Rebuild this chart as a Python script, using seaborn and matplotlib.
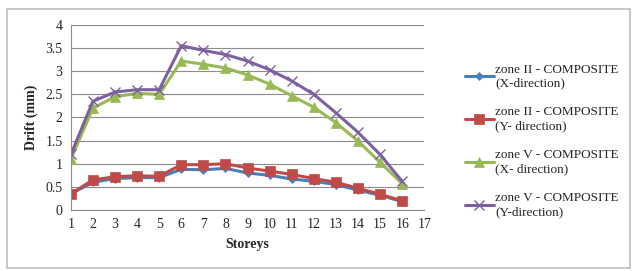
import matplotlib
matplotlib.use("Agg")
import matplotlib.pyplot as plt
import seaborn as sns
import pandas as pd
from matplotlib.patches import Rectangle

storeys = list(range(1, 17))
zone2_x = [0.35, 0.60, 0.68, 0.70, 0.70, 0.88, 0.87, 0.90, 0.80, 0.75, 0.67, 0.62, 0.55, 0.43, 0.32, 0.18]
zone2_y = [0.35, 0.65, 0.72, 0.74, 0.73, 0.98, 0.98, 1.00, 0.91, 0.84, 0.77, 0.68, 0.60, 0.47, 0.34, 0.20]
zone5_x = [1.10, 2.20, 2.45, 2.52, 2.50, 3.22, 3.15, 3.07, 2.92, 2.72, 2.47, 2.22, 1.89, 1.49, 1.03, 0.57]
zone5_y = [1.20, 2.35, 2.55, 2.60, 2.60, 3.55, 3.45, 3.36, 3.22, 3.03, 2.79, 2.50, 2.10, 1.68, 1.20, 0.62]

labels = ["zone II - COMPOSITE\n(X-direction)",
          "zone II - COMPOSITE\n(Y- direction)",
          "zone V - COMPOSITE\n(X- direction)",
          "zone V - COMPOSITE\n(Y-direction)"]
colors = ["#4A7EBB", "#BE4B48", "#98B954", "#7D60A0"]
markers = ["D", "s", "^", "x"]
msizes = [4, 7.5, 7, 7]

frames = []
for lab, vals in zip(labels, [zone2_x, zone2_y, zone5_x, zone5_y]):
    frames.append(pd.DataFrame({"Storeys": storeys, "Drift": vals, "series": lab}))
df = pd.concat(frames)

sns.set_style("white")
plt.rcParams["font.family"] = ["Liberation Serif", "DejaVu Serif"]

fig = plt.figure(figsize=(6.38, 2.71), dpi=100)
ax = fig.add_axes([0.111, 0.225, 0.554, 0.683])

for lab, col, mk, ms in zip(labels, colors, markers, msizes):
    sub = df[df["series"] == lab]
    sns.lineplot(data=sub, x="Storeys", y="Drift", ax=ax, color=col, linewidth=2.2,
                 marker=mk, markersize=ms, markeredgecolor=col,
                 markeredgewidth=1.0 if mk == "x" else 0.5, label=lab)

ax.set_xlim(1, 17)
ax.set_ylim(0, 4)
ax.set_xticks(range(1, 18))
ax.set_yticks([0, 0.5, 1, 1.5, 2, 2.5, 3, 3.5, 4])
ax.set_yticklabels(["0", "0.5", "1", "1.5", "2", "2.5", "3", "3.5", "4"])
ax.tick_params(axis="both", labelsize=10, length=0, pad=6)
ax.yaxis.grid(True, color="#8c8c8c", linewidth=0.8)
ax.xaxis.grid(False)
ax.set_axisbelow(True)
for s in ["top", "right"]:
    ax.spines[s].set_visible(False)
for s in ["left", "bottom"]:
    ax.spines[s].set_color("#8c8c8c")
    ax.spines[s].set_linewidth(0.8)

ax.set_xlabel("Storeys", fontsize=10, fontweight="bold", labelpad=5)
ax.set_ylabel("Drift (mm)", fontsize=10, fontweight="bold", labelpad=5)

leg = ax.legend(loc="upper left", bbox_to_anchor=(1.10, 0.82), frameon=False, fontsize=9.5,
                handlelength=2.2, handletextpad=0.1, labelspacing=1.3, borderaxespad=0)

fig.patches.append(Rectangle((0.011, 0.01), 0.977, 0.957, transform=fig.transFigure,
                             fill=False, edgecolor="#bdbdbd", linewidth=1.2))

fig.savefig("out.png", dpi=100)
